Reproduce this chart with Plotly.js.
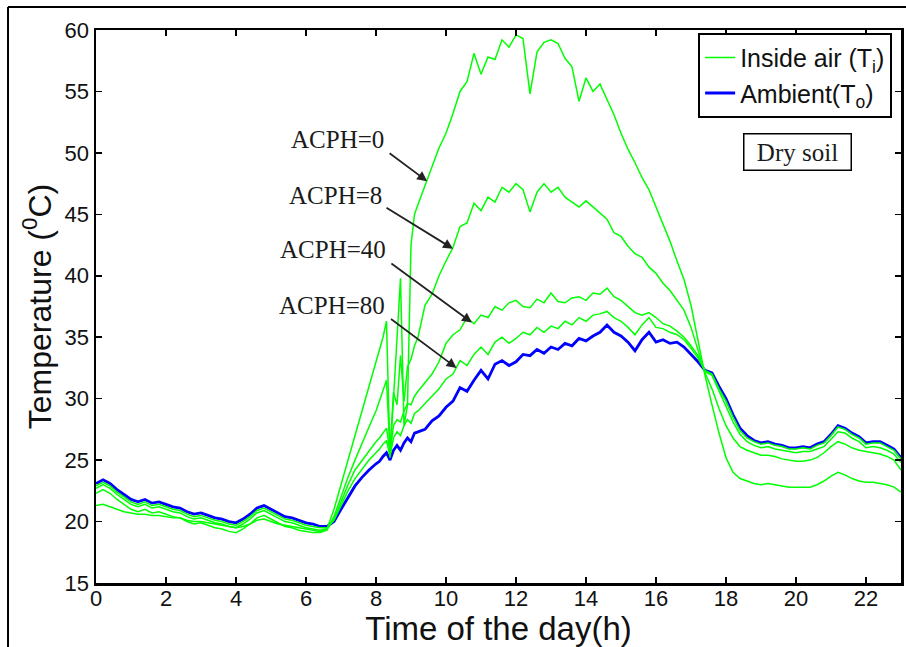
<!DOCTYPE html>
<html>
<head>
<meta charset="utf-8">
<script src="https://cdn.plot.ly/plotly-3.0.1.min.js"></script>
<style>html,body{margin:0;padding:0;background:#fff;}#chart{width:906px;height:647px;}</style>
</head>
<body>
<div id="chart"></div>
<script>
// Time of the day (h)
const hours = [0,0.2,0.4,0.6,0.8,1,1.2,1.4,1.6,1.8,2,2.2,2.4,2.6,2.8,3,3.2,3.4,3.6,3.8,4,4.2,4.4,4.6,4.8,5,5.2,5.4,5.6,5.8,6,6.2,6.4,6.6,
6.8,7,7.2,7.4,7.6,7.8,
8,8.1,8.2,8.3,8.4,8.5,8.6,8.7,8.8,8.9,9,9.1,9.2,
9.4,9.6,9.8,10,10.2,10.4,10.6,10.8,11,11.2,11.4,11.6,11.8,12,12.2,12.4,12.6,12.8,13,13.2,13.4,13.6,13.8,14,14.2,14.4,14.6,14.8,15,15.2,15.4,15.6,15.8,16,16.2,16.4,16.6,16.8,17,17.2,17.4,
17.6,17.8,18,18.2,18.4,18.6,18.8,19,19.2,19.4,19.6,19.8,20,20.2,20.4,20.6,20.8,21,21.2,21.4,21.6,21.8,22,22.2,22.4,22.6,22.8,23];

// Ambient temperature (To)
const ambient = [23.1,23.4,23.1,22.6,22.2,21.8,21.6,21.8,21.5,21.6,21.4,21.2,21.1,20.8,20.6,20.7,20.5,20.3,20.2,20.0,19.9,20.2,20.6,21.1,21.3,21.0,20.7,20.4,20.3,20.1,19.9,19.8,19.6,19.6,
20.0,21.0,22.0,22.9,23.6,24.2,
24.7,24.9,25.3,25.6,25.0,25.8,26.2,25.8,26.4,26.8,26.5,27.2,27.3,
27.5,28.2,28.6,29.3,29.8,30.9,30.6,31.5,32.3,31.6,32.8,33.1,32.7,33.0,33.6,33.5,34.0,33.7,34.2,34.0,34.5,34.3,34.9,34.7,35.1,35.4,36.0,35.4,35.1,34.6,33.9,34.8,35.4,34.6,34.8,34.5,34.6,34.2,33.6,33.0,32.3,
32.1,31.0,30.0,28.7,27.6,27.0,26.6,26.4,26.5,26.3,26.2,26.0,26.0,26.1,26.0,26.3,26.5,27.1,27.8,27.6,27.2,26.9,26.4,26.5,26.5,26.2,25.9,25.2];

// Inside air (Ti), ACPH = 80
const acph80 = [22.9,23.2,22.9,22.4,22.0,21.6,21.4,21.6,21.3,21.4,21.2,21.0,20.9,20.6,20.4,20.5,20.3,20.1,20.0,19.8,19.7,20.0,20.4,20.9,21.1,20.8,20.5,20.2,20.1,19.9,19.7,19.6,19.5,19.5,
20.1,21.3,22.5,23.5,24.3,25.0,
25.6,25.9,26.3,26.6,25.3,26.8,27.3,27.0,27.8,28.3,28.0,28.8,29.0,
29.6,30.2,30.8,31.6,32.0,33.1,32.7,33.6,34.2,33.6,34.6,35.0,34.5,34.9,35.4,35.2,35.8,35.4,35.9,35.7,36.3,36.0,36.6,36.3,36.8,36.9,37.1,36.6,36.3,35.8,35.2,36.0,36.6,35.8,35.7,35.4,35.2,34.8,34.1,33.3,32.3,
32.0,30.8,29.8,28.5,27.4,26.8,26.5,26.3,26.4,26.2,26.1,25.9,25.9,26.0,25.9,26.2,26.4,27.0,27.7,27.5,27.1,26.8,26.3,26.4,26.4,26.1,25.8,25.1];

// Inside air (Ti), ACPH = 40
const acph40 = [22.7,23.0,22.7,22.2,21.8,21.4,21.2,21.4,21.1,21.2,21.0,20.8,20.7,20.4,20.2,20.3,20.1,19.9,19.8,19.6,19.5,19.8,20.2,20.7,20.9,20.6,20.3,20.0,19.9,19.7,19.5,19.4,19.3,19.4,
20.2,21.6,23.0,24.2,25.0,25.8,
26.5,26.8,27.2,27.6,25.6,27.8,28.3,28.1,29.0,29.6,29.5,30.2,30.6,
31.3,32.0,33.0,34.5,35.2,35.6,36.6,36.1,36.8,36.6,37.5,37.2,37.8,38.0,37.5,37.4,38.1,37.8,38.6,37.9,37.8,38.2,38.3,38.0,38.6,38.5,39.0,38.3,38.0,37.5,37.0,36.8,37.0,36.6,36.1,35.9,35.5,35.0,34.3,33.5,32.2,
31.9,30.6,29.4,28.1,27.1,26.5,26.2,26.0,26.1,25.9,25.8,25.7,25.6,25.7,25.7,25.9,26.1,26.7,27.3,27.2,26.8,26.5,26.0,26.1,26.0,25.8,25.5,24.8];

// Inside air (Ti), ACPH = 8
const acph8 = [22.3,22.6,22.3,21.8,21.4,21.0,20.8,21.0,20.7,20.8,20.6,20.4,20.3,20.0,19.8,19.9,19.7,19.5,19.4,19.2,19.1,19.4,19.8,20.3,20.5,20.2,19.9,19.6,19.5,19.3,19.2,19.1,19.1,19.3,
20.4,22.0,23.6,25.0,26.4,27.7,
29.0,29.8,30.6,31.5,25.8,30.5,29.5,33.5,29.8,32.6,33.2,34.3,35.0,
37.6,38.5,40.0,41.2,42.3,44.0,44.3,45.9,45.3,46.4,46.0,47.2,46.8,47.5,47.0,45.2,46.8,47.5,46.8,47.2,46.4,46.0,45.6,46.1,45.6,45.1,44.6,43.5,43.2,42.4,41.8,41.5,40.7,40.2,39.4,38.8,38.0,37.2,35.8,34.0,32.1,
30.8,29.2,27.8,26.8,26.1,25.8,25.6,25.4,25.4,25.3,25.1,25.0,24.9,24.9,25.0,25.2,25.6,26.1,26.5,26.3,26.0,25.8,25.7,25.6,25.5,25.3,25.0,24.2];

// Inside air (Ti), ACPH = 0
const acph0 = [21.3,21.4,21.2,21.0,20.8,20.7,20.6,20.6,20.5,20.5,20.4,20.3,20.3,20.1,20.0,20.0,19.9,19.8,19.7,19.6,19.5,19.6,19.8,20.1,20.2,20.0,19.8,19.7,19.6,19.5,19.4,19.3,19.2,19.4,
21.0,23.0,25.0,27.0,29.0,31.0,
33.0,34.0,35.0,36.3,25.2,30.0,35.0,39.8,27.8,29.5,42.5,45.0,45.8,
47.3,48.8,50.4,51.6,53.2,55.0,55.8,58.1,56.4,57.8,57.6,59.2,58.6,59.6,59.3,54.8,58.2,59.0,59.2,58.9,57.7,57.0,54.2,56.1,55.0,55.6,54.3,53.1,51.6,50.3,49.2,48.0,47.0,45.6,44.2,42.8,41.2,39.7,37.6,34.8,31.9,
29.5,27.2,25.2,24.0,23.5,23.3,23.1,23.0,23.1,23.0,22.9,22.8,22.8,22.8,22.8,23.0,23.3,23.7,24.0,23.8,23.5,23.3,23.2,23.2,23.1,23.0,22.8,22.4];

const xTicks = [0,2,4,6,8,10,12,14,16,18,20,22];
const yTicks = [15,20,25,30,35,40,45,50,55,60];
const caseLabels = ['ACPH=0','ACPH=8','ACPH=40','ACPH=80'];

const GREEN = '#00ff00';
const BLUE = '#0000ff';

const traces = [
  {x: hours, y: ambient, type: 'scatter', mode: 'lines', name: 'Ambient(T<sub>o</sub>)',
   line: {color: BLUE, width: 2.8}, legendrank: 2},
  {x: hours, y: acph80, type: 'scatter', mode: 'lines', name: 'Inside air (T<sub>i</sub>)',
   line: {color: GREEN, width: 1.5}, showlegend: false},
  {x: hours, y: acph40, type: 'scatter', mode: 'lines', name: 'Inside air (T<sub>i</sub>)',
   line: {color: GREEN, width: 1.5}, showlegend: false},
  {x: hours, y: acph8, type: 'scatter', mode: 'lines', name: 'Inside air (T<sub>i</sub>)',
   line: {color: GREEN, width: 1.5}, showlegend: false},
  {x: hours, y: acph0, type: 'scatter', mode: 'lines', name: 'Inside air (T<sub>i</sub>)',
   line: {color: GREEN, width: 1.5}, legendrank: 1}
];

const serif = 'Liberation Serif, Times New Roman, serif';
const sans = 'Liberation Sans, Arial, sans-serif';

// label text positions (data coords) and arrows (head in data coords, tail offset in px)
const labelPos = [[6.91, 51.05], [6.83, 46.57], [6.77, 42.1], [6.74, 37.62]];
const arrowHead = [[9.46, 47.7], [10.2, 42.2], [10.74, 36.2], [10.3, 32.5]];
const arrowTail = [[-39, -29], [-68, -42], [-82, -60], [-67, -50]];

const annotations = [];
caseLabels.forEach((t, i) => {
  annotations.push({x: labelPos[i][0], y: labelPos[i][1], xref: 'x', yref: 'y', text: t, showarrow: false,
    font: {family: serif, size: 25, color: '#1b1b1b'}});
  annotations.push({x: arrowHead[i][0], y: arrowHead[i][1], xref: 'x', yref: 'y', text: '', showarrow: true,
    ax: arrowTail[i][0], ay: arrowTail[i][1], arrowhead: 2, arrowsize: 1.1, arrowwidth: 1.8, arrowcolor: '#222'});
});
annotations.push({x: 0.872, y: 0.779, xref: 'paper', yref: 'paper', xanchor: 'center', yanchor: 'middle',
  text: 'Dry soil', showarrow: false,
  font: {family: serif, size: 25, color: '#1b1b1b'}, bordercolor: '#000', borderwidth: 1.5, borderpad: 0,
  width: 106, height: 35, bgcolor: '#fff'});

const layout = {
  width: 906, height: 647,
  margin: {l: 96, r: 5, t: 30, b: 64},
  paper_bgcolor: '#fff', plot_bgcolor: '#fff',
  showlegend: true,
  legend: {x: 0.748, y: 0.995, xanchor: 'left', yanchor: 'top', bgcolor: '#fff',
    bordercolor: '#000', borderwidth: 2, font: {family: sans, size: 25, color: '#111'}},
  xaxis: {range: [0, 23], tickvals: xTicks, ticks: 'inside', ticklen: 6, tickwidth: 1.5, tickcolor: '#000',
    showline: true, linecolor: '#000', linewidth: 2.5, mirror: 'ticks', showgrid: false, zeroline: false,
    ticklabelstandoff: -6,
    tickfont: {family: sans, size: 22, color: '#111'},
    title: {text: 'Time of the day(h)', font: {family: sans, size: 33, color: '#111'}, standoff: 0}},
  yaxis: {range: [15, 60], tickvals: yTicks, ticks: 'inside', ticklen: 6, tickwidth: 1.5, tickcolor: '#000',
    showline: true, linecolor: '#000', linewidth: 2.5, mirror: 'ticks', showgrid: false, zeroline: false,
    tickfont: {family: sans, size: 22, color: '#111'},
    title: {text: 'Temperature (<sup>0</sup>C)', font: {family: sans, size: 32, color: '#111'}, standoff: 4}},
  annotations: annotations,
  shapes: [
    {type: 'line', xref: 'paper', yref: 'paper', x0: -0.1093, x1: 1.01, y0: 1.0416, y1: 1.0416, line: {color: '#000', width: 2}},
    {type: 'line', xref: 'paper', yref: 'paper', x0: -0.1093, x1: -0.1093, y0: 1.0416, y1: -0.12, line: {color: '#000', width: 2}}
  ]
};

Plotly.newPlot('chart', traces, layout, {displayModeBar: false, staticPlot: true});
</script>
</body>
</html>
